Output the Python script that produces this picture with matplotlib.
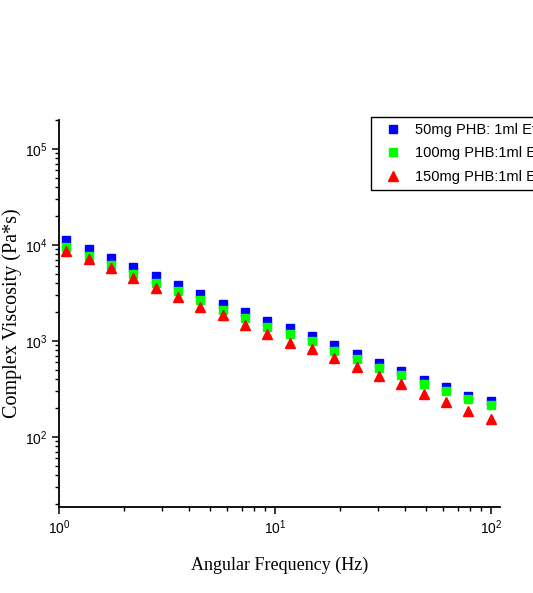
import matplotlib
matplotlib.use('Agg')
import matplotlib.pyplot as plt

# angular frequency (Hz)
freq = [1.077, 1.377, 1.74, 2.20, 2.81, 3.55, 4.50, 5.74, 7.26, 9.18,
        11.7, 14.8, 18.8, 24.0, 30.3, 38.3, 48.9, 61.9, 78.3, 100.0]
# complex viscosity (Pa*s)
visc_50 = [11270, 9085, 7200, 5800, 4720, 3785, 3035, 2427, 1971, 1614,
           1343, 1109, 894, 733, 586, 483, 395, 330, 269, 239]
visc_100 = [9530, 7680, 6085, 4910, 3990, 3280, 2630, 2105, 1708, 1400,
            1191, 984, 792, 649, 520, 440, 359, 299, 245, 217]
visc_150 = [8660, 7100, 5665, 4560, 3565, 2850, 2260, 1852, 1468, 1178,
            946, 820, 665, 536, 432, 351, 282, 232, 187, 155]
labels = ['50mg PHB: 1ml EtOH', '100mg PHB:1ml EtOH', '150mg PHB:1ml EtOH']

plt.rcParams['font.family'] = 'Liberation Sans'
plt.rcParams['mathtext.default'] = 'regular'

fig = plt.figure(figsize=(5.33, 5.93), dpi=100)
ax = fig.add_axes([0.1107, 0.145, 0.8273, 0.653])

ax.plot(freq, visc_50, 's', color='#0000ff', ms=6, label=labels[0])
ax.plot(freq, visc_100, 's', color='#00ff00', ms=6, label=labels[1])
ax.plot(freq, visc_150, '^', color='#ff0000', ms=7.5, label=labels[2])

ax.set_xscale('log')
ax.set_yscale('log')
ax.set_xlim(1, 110)
ax.set_ylim(18.6, 2e5)

ax.spines['top'].set_visible(False)
ax.spines['right'].set_visible(False)
for s in ['left', 'bottom']:
    ax.spines[s].set_linewidth(1.3)
ax.tick_params(which='major', direction='out', length=5, width=1.1, labelsize=10)
ax.tick_params(which='minor', direction='out', length=3, width=1.0)

ax.set_xlabel('Angular Frequency (Hz)', family='Liberation Serif', fontsize=13, labelpad=14)
ax.set_ylabel('Complex Viscosity (Pa*s)', family='Liberation Serif', fontsize=14.5, labelpad=2)

leg = ax.legend(loc='upper left', bbox_to_anchor=(371 / 533, 1 - 117 / 593),
                bbox_transform=fig.transFigure, fancybox=False, edgecolor='black',
                framealpha=1, fontsize=10.5, handletextpad=0.42, borderpad=0.4,
                labelspacing=0.65, handlelength=2.2, borderaxespad=0)
leg.get_frame().set_linewidth(1.0)

fig.savefig('out.png', dpi=100)
